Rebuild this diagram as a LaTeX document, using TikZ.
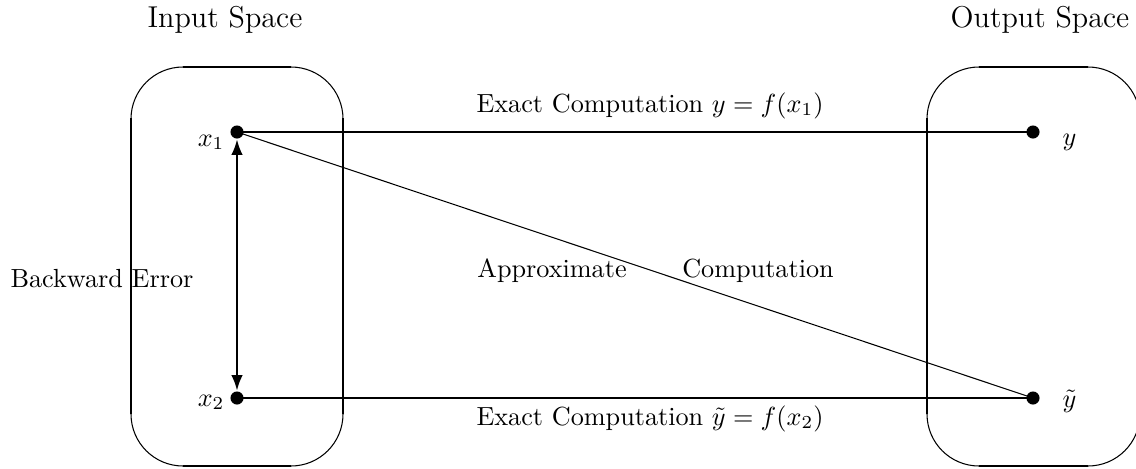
\documentclass[tikz,border=0pt]{standalone}
\usetikzlibrary{arrows.meta}
\begin{document}
\begin{tikzpicture}[x=0.3817pt,y=-0.3817pt,
  thickline/.style={line width=0.85pt},
  thinline/.style={line width=0.4pt},
  dot/.style={circle,fill=black,inner sep=0pt,minimum size=5pt},
  lbl/.style={font=\fontsize{10}{12}\selectfont,inner sep=0pt},
  title/.style={font=\fontsize{11.5}{14}\selectfont,inner sep=0pt},
  dblarrow/.style={{Latex[length=6pt,width=4.4pt]}-{Latex[length=6pt,width=4.4pt]}}]
\useasboundingbox (0,0) rectangle (1136,468);
\clip (0,0) rectangle (1136,468);
% left box (Input Space)
\draw[thinline,rounded corners=19.85pt] (131,67) rectangle (343,466);
\draw[thickline] (131,118) -- (131,414);
\draw[thickline] (343,118) -- (343,414);
\draw[thickline] (183,67) -- (291,67);
\draw[thickline] (183,466) -- (291,466);
% right box (Output Space)
\draw[thinline,rounded corners=19.85pt] (927,67) rectangle (1140,466);
\draw[thickline] (927,118) -- (927,414);
\draw[thickline] (979,67) -- (1088,67);
\draw[thickline] (979,466) -- (1088,466);
% points
\node[dot] (x1) at (237,132) {};
\node[dot] (x2) at (237,398) {};
\node[dot] (y) at (1033,132) {};
\node[dot] (yt) at (1033,398) {};
% connectors
\draw[thickline] (x1.center) -- (y.center);
\draw[thickline] (x2.center) -- (yt.center);
\draw[thinline] (x1.center) -- (yt.center);
\draw[line width=1pt,dblarrow] (x1) -- (x2);
% labels
\node[title,anchor=base] (tin) at (225,27) {Input Space};
\node[title,anchor=base] (tout) at (1040,27) {Output Space};
\node[lbl,anchor=base east] (lx1) at (225,146) {$x_1$};
\node[lbl,anchor=base east] (lx2) at (225,406) {$x_2$};
\node[lbl,anchor=base west] (ly) at (1062,145) {$y$};
\node[lbl,anchor=base west] (lyt) at (1062,407) {$\tilde{y}$};
\node[lbl,anchor=base] (e1) at (650,112) {Exact Computation $y=f(x_1)$};
\node[lbl,anchor=base] (e2) at (650,425) {Exact Computation $\tilde{y}=f(x_2)$};
\node[lbl,anchor=base] (ap) at (552,277) {Approximate};
\node[lbl,anchor=base] (co) at (758,277) {Computation};
\node[lbl,anchor=base] (be) at (102,287) {Backward Error};
\end{tikzpicture}
\end{document}
